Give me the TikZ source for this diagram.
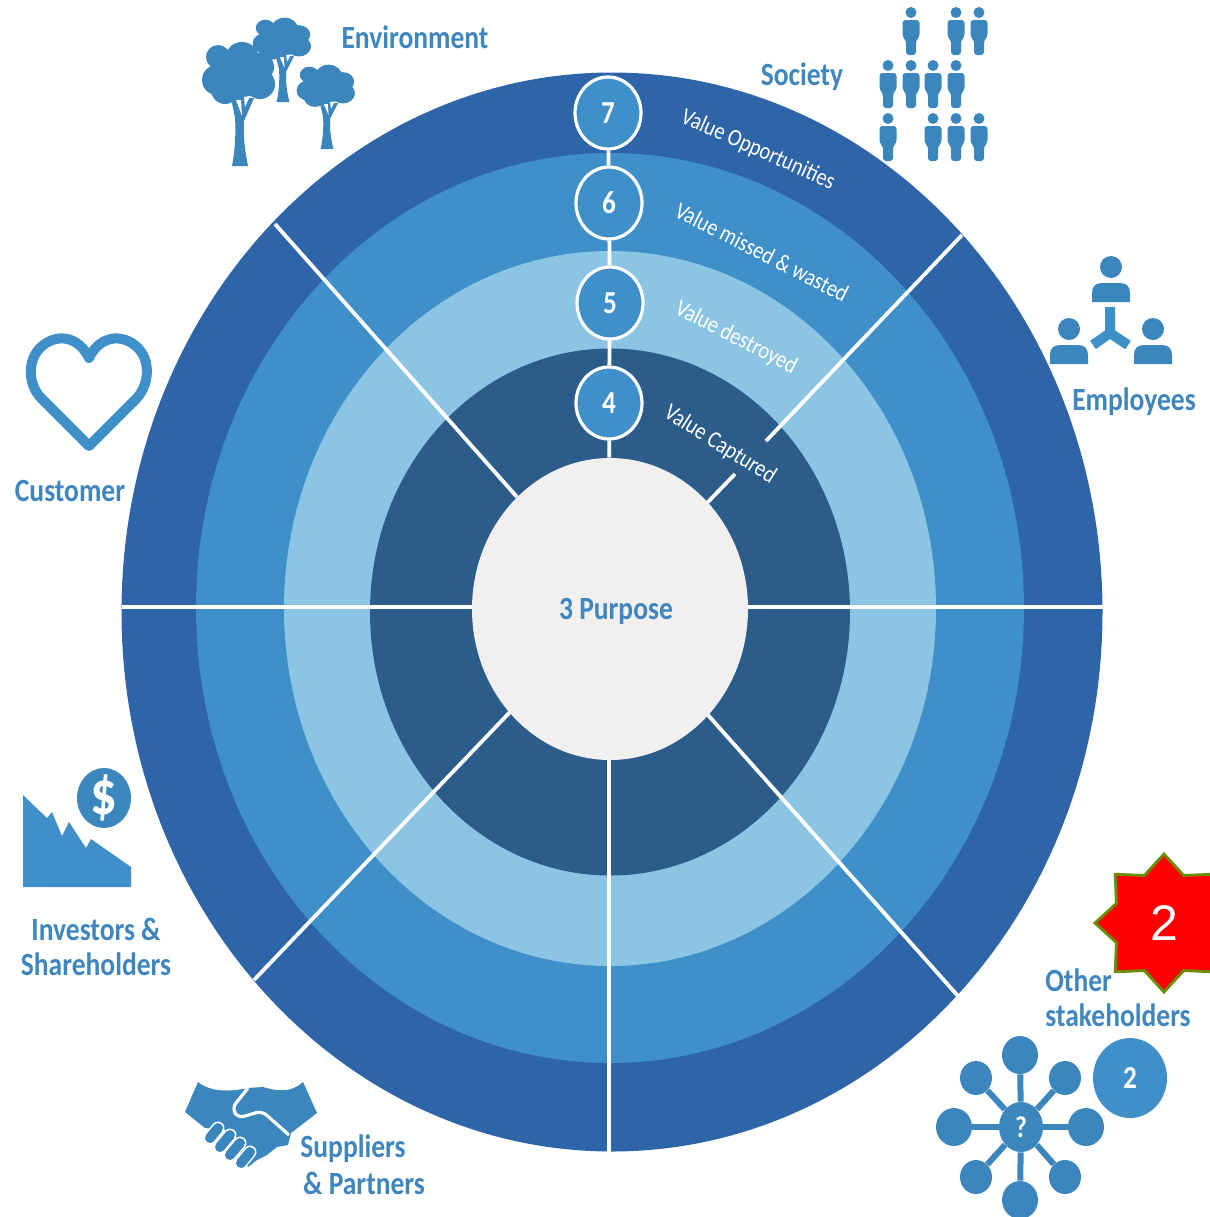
\documentclass[tikz,border=0pt]{standalone}
\usepackage{fontspec}
\setmainfont{Carlito}
\newfontfamily\labelfont{Carlito}[FakeStretch=0.85]
\usetikzlibrary{shapes.geometric}
\definecolor{ringseven}{HTML}{2E64A8}
\definecolor{ringsix}{HTML}{3F8FC8}
\definecolor{ringfive}{HTML}{8CC4E3}
\definecolor{ringfour}{HTML}{2B5C8A}
\definecolor{coregrey}{HTML}{F2F0EF}
\definecolor{iconblue}{HTML}{3A86BD}
\definecolor{labelblue}{HTML}{3F85BE}
\definecolor{stargreen}{HTML}{6B8E00}
\tikzset{
  spoke/.style={draw=white,line width=1.9pt},
  core/.style={ellipse,fill=coregrey,minimum width=138pt,minimum height=151pt,inner sep=0pt},
  badge/.style={ellipse,draw=white,line width=1.6pt,fill=ringsix,minimum width=33pt,minimum height=36pt,inner sep=0pt,text=white,font=\labelfont\fontsize{16}{18}\selectfont\bfseries},
  grouplabel/.style={text=labelblue,font=\labelfont\fontsize{16.2}{17.5}\selectfont\bfseries,inner sep=0pt},
  ringlabel/.style={text=white,font=\labelfont\fontsize{12}{14}\selectfont,inner sep=0pt},
  ball/.style={ellipse,fill=iconblue,minimum width=18pt,minimum height=19pt,inner sep=0pt},
  smallball/.style={ball,minimum width=16pt,minimum height=17pt},
  treeicon/.pic={
    \fill[iconblue] (-22,-109) circle (12) (-23,-86) circle (15) (-15,-76) circle (14)
      (2,-107) circle (17) (-2,-89) circle (23) (20,-82) circle (15) (20,-99) circle (14);
    \fill[iconblue] (-8,0) .. controls (-5,-15) and (-4,-35) .. (-5,-48) -- (-9,-68) -- (14,-68) -- (4,-45) .. controls (3,-30) and (5,-15) .. (8,0) -- cycle;
    \fill[white] (-4,-66) -- (2,-50) -- (1,-66) -- cycle (4,-69) -- (5,-59) -- (10,-70) -- cycle;
  },
  personicon/.pic={
    \fill[iconblue] (0,5.5) circle (5.5);
    \fill[iconblue,rounded corners=1.5pt] (-8.5,13) -- (-8.5,30) -- (-5,33) -- (-5,48) -- (5,48) -- (5,33) -- (8.5,30) -- (8.5,13) -- cycle;
  },
  staffmember/.pic={
    \fill[iconblue] (0,0) circle (11);
    \fill[iconblue] (-19,35) -- (-19,26) .. controls (-19,19) and (-15,16) .. (-9,16) -- (9,16) .. controls (15,16) and (19,19) .. (19,26) -- (19,35) -- cycle;
  }
}
\begin{document}
\begin{tikzpicture}[x=0.5pt,y=-0.5pt]
  \useasboundingbox (0,0) rectangle (1210,1217);
  \clip (0,0) rectangle (1210,1217);
  \fill[ringseven] (612,612) ellipse (490.5 and 539.5);
  \fill[ringsix] (610,608) ellipse (414 and 455);
  \fill[ringfive] (610,608.5) ellipse (326 and 357.5);
  \fill[ringfour] (610,612) ellipse (240 and 263.5);

  \coordinate (leftrim) at (122,607);
  \coordinate (lefthub) at (472,607);
  \coordinate (rightrim) at (1103,607);
  \coordinate (righthub) at (748,607);
  \coordinate (bottomrim) at (609,1152);
  \coordinate (bottomhub) at (609,760);
  \coordinate (nwrim) at (275,224);
  \coordinate (nwhub) at (517,497);
  \coordinate (nerim) at (962,235);
  \coordinate (negap) at (766,441);
  \coordinate (nestub) at (735,474);
  \coordinate (nehub) at (707,503);
  \coordinate (swrim) at (254,980);
  \coordinate (swhub) at (510,712);
  \coordinate (serim) at (958,996);
  \coordinate (sehub) at (708,715);
  \draw[spoke] (leftrim) -- (lefthub);
  \draw[spoke] (rightrim) -- (righthub);
  \draw[spoke] (bottomrim) -- (bottomhub);
  \draw[spoke] (nwrim) -- (nwhub);
  \draw[spoke] (nerim) -- (negap);
  \draw[spoke] (nestub) -- (nehub);
  \draw[spoke] (swrim) -- (swhub);
  \draw[spoke] (serim) -- (sehub);

  \node[core] (core) at (610,609) {};
  \node[grouplabel] (purpose) at (616,611) {3 Purpose};

  \node[badge] (badgeseven) at (608,113) {7};
  \node[badge] (badgesix) at (609,203) {6};
  \node[badge] (badgefive) at (610,303) {5};
  \node[badge] (badgefour) at (609,403) {4};
  \draw[spoke] (badgeseven) -- (badgesix);
  \draw[spoke] (badgesix) -- (badgefive);
  \draw[spoke] (badgefive) -- (badgefour);
  \draw[spoke] (badgefour) -- (core);

  \node[ringlabel,rotate=-24] (opportunities) at (758,150) {Value Opportunities};
  \node[ringlabel,rotate=-27] (missed) at (762,252) {Value missed \& wasted};
  \node[ringlabel,rotate=-27] (destroyed) at (736,338) {Value destroyed};
  \node[ringlabel,rotate=-32] (captured) at (720,445) {Value Captured};

  \node[grouplabel] (environment) at (415,37) {Environment};
  \node[grouplabel] (society) at (802,77) {Society};
  \node[grouplabel] (employees) at (1134,402) {Employees};
  \node[grouplabel] (customer) at (70,491) {Customer};
  \node[grouplabel,align=center] (investors) at (96,947) {Investors \&\\[0pt]Shareholders};
  \node[grouplabel] (suppliers) at (353,1149) {Suppliers};
  \node[grouplabel] (partners) at (364,1183) {\& Partners};
  \node[grouplabel,align=left] (other) at (1118,998) {Other\\[0pt]stakeholders};

  \pic[xscale=.8,yscale=.68] at (283,102) {treeicon};
  \pic at (240,166) {treeicon};
  \pic[xscale=.8,yscale=.68] at (327,149) {treeicon};

  \foreach \cx/\cy in {911/7,956/7,979/7,888/60,911/60,933/60,956/60,888/113,933/113,956/113,979/113}
    \pic at (\cx,\cy) {personicon};

  \pic at (1111,267) {staffmember};
  \pic at (1069,329) {staffmember};
  \pic at (1153,329) {staffmember};
  \draw[ringsix,line width=5pt] (1110,307) -- (1110,333) -- (1093,345);
  \draw[ringsix,line width=5pt] (1110,333) -- (1128,345);

  \draw[ringsix,line width=5pt,line join=round] (89,446) -- (41,398) .. controls (27,383) and (28,360) .. (40,348) .. controls (55,333) and (78,335) .. (89,358) .. controls (100,335) and (123,333) .. (138,348) .. controls (150,360) and (150,383) .. (137,398) -- cycle;

  \fill[ringsix] (23,795) -- (47,818) -- (52,812) -- (62,836) -- (69,822) -- (86,848) -- (91,839) -- (131,867) -- (131,887) -- (23,887) -- cycle;
  \node[ellipse,fill=iconblue,minimum width=27pt,minimum height=30pt,inner sep=0pt] (coin) at (104,798) {};
  \node[text=white,inner sep=0pt,font=\labelfont\fontsize{31}{31}\selectfont\bfseries] (dollar) at (coin) {\$};

  \fill[iconblue] (198,1082) .. controls (210,1092) and (230,1092) .. (248,1088) -- (263,1087) .. controls (280,1092) and (292,1092) .. (303,1082) -- (317,1113) -- (291,1133) -- (288,1145) -- (277,1147) -- (267,1155) -- (257,1160) -- (248,1167) -- (225,1130) -- (205,1128) -- (185,1112) -- cycle;
  \draw[white,line width=1.6pt,rounded corners=3pt] (248,1088) -- (232,1108) -- (238,1118) -- (262,1111) -- (289,1135);
  \foreach \ax/\ay/\bx/\by in {210/1138/218/1128,220/1147/230/1135,230/1155/240/1143,241/1163/250/1152} {
    \draw[white,line width=6.5pt,line cap=round] (\ax,\ay) -- (\bx,\by);
    \draw[iconblue,line width=5pt,line cap=round] (\ax,\ay) -- (\bx,\by);
  }

  \node[ball,minimum width=22pt,minimum height=25pt,text=white,font=\labelfont\fontsize{15}{18}\selectfont\bfseries] (hub) at (1021,1127) {?};
  \foreach \nodename/\kind/\hx/\hy in {north/ball/1020/1055,northeast/smallball/1065/1078,east/ball/1086/1127,southeast/smallball/1065/1177,south/ball/1020/1200,southwest/smallball/976/1177,west/ball/954/1127,northwest/smallball/976/1078} {
    \node[\kind] (\nodename) at (\hx,\hy) {};
    \draw[iconblue,line width=3pt] (hub) -- (\nodename);
  }
  \node[ellipse,fill=ringsix,minimum width=37pt,minimum height=40pt,inner sep=0pt,text=white,font=\labelfont\fontsize{16}{18}\selectfont\bfseries] (stakebadge) at (1130,1078) {2};

  \node[star,star points=8,star point ratio=1.34,minimum size=69pt,inner sep=0pt,draw=stargreen,line width=1.4pt,fill=red,text=white,font=\fontspec{Liberation Sans}\fontsize{25}{25}\selectfont] (marker) at (1164,923) {2};
\end{tikzpicture}
\end{document}
